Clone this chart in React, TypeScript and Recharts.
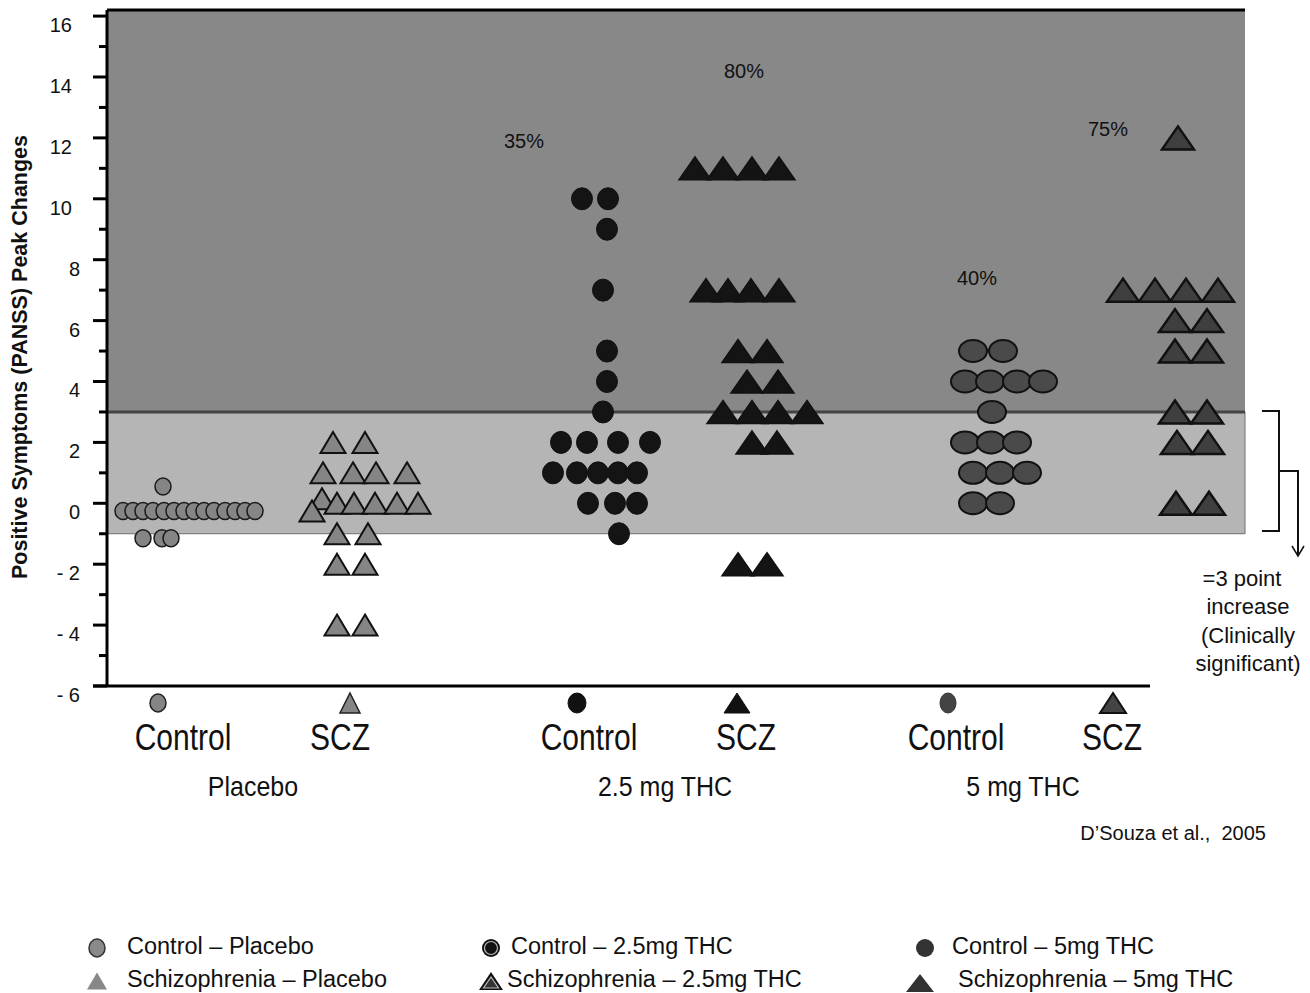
import React from "react";
import {
  ScatterChart,
  Scatter,
  XAxis,
  YAxis,
  ReferenceArea,
  ReferenceLine,
  ReferenceDot,
} from "recharts";

// each point: [lane, PANSS change]; lane = horizontal slot in the swarm
const placeboControl: [number, number][] = [
  [5.6, 0.55],
  [1.6, -0.25], [2.6, -0.25], [3.6, -0.25], [4.6, -0.25], [5.7, -0.25], [6.7, -0.25], [7.7, -0.25],
  [8.7, -0.25], [9.7, -0.25], [10.7, -0.25], [11.8, -0.25], [12.8, -0.25], [13.8, -0.25], [14.8, -0.25],
  [3.6, -1.15], [5.5, -1.15], [6.4, -1.15],
];
const placeboScz: [number, number][] = [
  [22.6, 2], [25.8, 2],
  [21.6, 1], [24.6, 1], [26.9, 1], [30.0, 1],
  [21.5, 0.15], [20.5, -0.25],
  [23.0, 0], [24.7, 0], [26.8, 0], [29.0, 0], [31.1, 0],
  [23.0, -1], [26.1, -1],
  [23.0, -2], [25.8, -2],
  [23.0, -4], [25.8, -4],
];
const thc25Control: [number, number][] = [
  [47.5, 10], [50.1, 10],
  [50.0, 9], [49.6, 7], [50.0, 5], [50.0, 4], [49.6, 3],
  [45.4, 2], [48.0, 2], [51.1, 2], [54.3, 2],
  [44.6, 1], [47.0, 1], [49.1, 1], [51.1, 1], [53.0, 1],
  [48.1, 0], [50.8, 0], [53.0, 0],
  [51.2, -1],
];
const thc25Scz: [number, number][] = [
  [58.8, 11], [61.6, 11], [64.5, 11], [67.2, 11],
  [59.9, 7], [62.1, 7], [64.4, 7], [67.2, 7],
  [63.1, 5], [66.0, 5],
  [64.0, 4], [67.1, 4],
  [61.6, 3], [64.5, 3], [67.1, 3], [70.0, 3],
  [64.5, 2], [67.0, 2],
  [63.1, -2], [66.0, -2],
];
const thc5Control: [number, number][] = [
  [86.6, 5], [89.6, 5],
  [85.8, 4], [88.3, 4], [91.0, 4], [93.6, 4],
  [88.5, 3],
  [85.8, 2], [88.4, 2], [91.0, 2],
  [86.6, 1], [89.3, 1], [92.0, 1],
  [86.6, 0], [89.3, 0],
];
const thc5Scz: [number, number][] = [
  [107.1, 12],
  [101.6, 7], [104.8, 7], [107.9, 7], [111.1, 7],
  [106.8, 6], [110.0, 6],
  [106.8, 5], [110.0, 5],
  [106.8, 3], [110.0, 3],
  [107.0, 2], [110.1, 2],
  [106.9, 0], [110.2, 0],
];

const categoryTicks = [7.6, 23.3, 48.2, 63.9, 84.9, 100.5];
const categoryNames = ["Control", "SCZ", "Control", "SCZ", "Control", "SCZ"];
const groupTicks = [14.6, 55.8, 91.6];
const groupNames = ["Placebo", "2.5 mg THC", "5 mg THC"];
const yTicks = [-6, -5, -4, -3, -2, -1, 0, 1, 2, 3, 4, 5, 6, 7, 8, 9, 10, 11, 12, 13, 14, 15, 16];
const threshold = 3;
const normalLow = -1;
const percentLabels = [
  { text: "35%", lane: 41.7, value: 11.9 },
  { text: "80%", lane: 63.7, value: 14.2 },
  { text: "40%", lane: 87.0, value: 7.4 },
  { text: "75%", lane: 100.1, value: 12.3 },
];
const legendItems = [
  "Control – Placebo",
  "Schizophrenia – Placebo",
  "Control – 2.5mg THC",
  "Schizophrenia – 2.5mg THC",
  "Control – 5mg THC",
  "Schizophrenia – 5mg THC",
];

const FONT = "'Liberation Sans', Arial, Helvetica, sans-serif";
const toPts = (arr: [number, number][]) => arr.map(([x, y]) => ({ x, y }));

const Circle = ({ cx, cy, rx, ry, fill, stroke, sw }: any) => (
  <ellipse cx={cx} cy={cy} rx={rx} ry={ry} fill={fill} stroke={stroke} strokeWidth={sw} />
);
const Tri = ({ cx, cy, w, h, fill, stroke, sw }: any) => (
  <polygon
    points={`${cx},${cy - h / 2} ${cx + w / 2},${cy + h / 2} ${cx - w / 2},${cy + h / 2}`}
    fill={fill}
    stroke={stroke}
    strokeWidth={sw}
    strokeLinejoin="miter"
  />
);

// icons under the x axis, one per category
const iconShift = [-25, 10, -12, -9, -8, 1];
const AxisIcon = ({ i, x, y }: { i: number; x: number; y: number }) => {
  const cx = x + iconShift[i];
  switch (i) {
    case 0:
      return <Circle cx={cx} cy={y} rx={8} ry={9} fill="#858585" stroke="#222" sw={1.5} />;
    case 1:
      return <Tri cx={cx} cy={y} w={20} h={20} fill="#858585" stroke="#222" sw={1.5} />;
    case 2:
      return <Circle cx={cx} cy={y} rx={9} ry={10} fill="#111" stroke="#111" sw={1} />;
    case 3:
      return <Tri cx={cx} cy={y} w={26} h={20} fill="#111" stroke="#111" sw={1} />;
    case 4:
      return <Circle cx={cx} cy={y} rx={8} ry={10} fill="#444" stroke="#333" sw={1} />;
    default:
      return <Tri cx={cx} cy={y} w={26} h={20} fill="#444" stroke="#111" sw={2} />;
  }
};

const XTick = (props: any) => {
  const { x, y, payload } = props;
  const v = payload.value;
  const ci = categoryTicks.findIndex((t) => Math.abs(t - v) < 0.01);
  if (ci >= 0) {
    return (
      <g>
        <AxisIcon i={ci} x={x} y={y + 17} />
        <text
          transform={`translate(${x},${y + 64}) scale(1,1.2)`}
          textAnchor="middle"
          fontFamily={FONT}
          fontSize={30}
          fill="#111"
        >
          {categoryNames[ci]}
        </text>
      </g>
    );
  }
  const gi = groupTicks.findIndex((t) => Math.abs(t - v) < 0.01);
  if (gi < 0) return null;
  return (
    <text
      transform={`translate(${x},${y + 110}) scale(1,1.1)`}
      textAnchor="middle"
      fontFamily={FONT}
      fontSize={25}
      fill="#111"
    >
      {groupNames[gi]}
    </text>
  );
};

const YTick = (props: any) => {
  const { x, y, payload } = props;
  const v = payload.value as number;
  const major = v % 2 === 0;
  const label = v < 0 ? `- ${-v}` : `${v}`;
  return (
    <g>
      <line x1={x - (major ? 14 : 8)} x2={x} y1={y} y2={y} stroke="#000" strokeWidth={3} />
      {major && (
        <text
          x={Math.abs(v) >= 10 ? x - 35 : x - 27}
          y={y + 9}
          textAnchor="end"
          dominantBaseline="central"
          fontFamily={FONT}
          fontSize={20}
          fill="#111"
        >
          {label}
        </text>
      )}
    </g>
  );
};

const LegendIcon = ({ i, cx, cy }: { i: number; cx: number; cy: number }) => {
  switch (i) {
    case 0:
      return <Circle cx={cx} cy={cy} rx={8} ry={9} fill="#8a8a8a" stroke="#333" sw={1.5} />;
    case 1:
      return <Tri cx={cx} cy={cy} w={20} h={17} fill="#888" stroke="none" sw={0} />;
    case 2:
      return (
        <g>
          <circle cx={cx} cy={cy} r={9} fill="#111" />
          <circle cx={cx} cy={cy} r={6.5} fill="none" stroke="#bbb" strokeWidth={1.2} />
        </g>
      );
    case 3:
      return (
        <g>
          <Tri cx={cx} cy={cy} w={24} h={18} fill="#111" stroke="none" sw={0} />
          <Tri cx={cx} cy={cy + 1.5} w={15} h={11} fill="#333" stroke="#bbb" sw={1.2} />
        </g>
      );
    case 4:
      return <circle cx={cx} cy={cy} r={9} fill="#333" />;
    default:
      return <Tri cx={cx} cy={cy} w={28} h={18} fill="#333" stroke="none" sw={0} />;
  }
};

const legendPos = [
  { ix: 97, iy: 948, tx: 127, ty: 946 },
  { ix: 97, iy: 981, tx: 127, ty: 979 },
  { ix: 491, iy: 948, tx: 511, ty: 946 },
  { ix: 491, iy: 981, tx: 507, ty: 979 },
  { ix: 925, iy: 948, tx: 952, ty: 946 },
  { ix: 920, iy: 983, tx: 958, ty: 979 },
];

const Overlay = () => (
  <svg
    width={1310}
    height={993}
    style={{ position: "absolute", left: 0, top: 0, pointerEvents: "none" }}
  >
    <text
      transform="translate(27,357) rotate(-90)"
      textAnchor="middle"
      fontFamily={FONT}
      fontWeight="bold"
      fontSize={21.5}
      fill="#111"
    >
      Positive Symptoms (PANSS) Peak Changes
    </text>
    {/* bracket and arrow */}
    <path
      d="M1262,411 L1279,411 L1279,531 L1262,531 M1279,471 L1298,471 L1298,555"
      fill="none"
      stroke="#111"
      strokeWidth={2}
    />
    <path d="M1292,546 L1298,556 L1304,546" fill="none" stroke="#111" strokeWidth={1.5} />
    {["=3 point", "increase", "(Clinically", "significant)"].map((t, i) => (
      <text
        key={t}
        x={i === 0 ? 1242 : 1248}
        y={578 + i * 28.5}
        textAnchor="middle"
        dominantBaseline="central"
        fontFamily={FONT}
        fontSize={22}
        fill="#111"
      >
        {t}
      </text>
    ))}
    <text
      x={1266}
      y={833}
      textAnchor="end"
      dominantBaseline="central"
      fontFamily={FONT}
      fontSize={20}
      fill="#111"
      style={{ whiteSpace: "pre" }}
    >
      {"D’Souza et al.,  2005"}
    </text>
    {legendItems.map((t, i) => (
      <g key={t}>
        <LegendIcon i={i} cx={legendPos[i].ix} cy={legendPos[i].iy} />
        <text
          x={legendPos[i].tx}
          y={legendPos[i].ty}
          dominantBaseline="central"
          fontFamily={FONT}
          fontSize={23.5}
          fill="#111"
        >
          {t}
        </text>
      </g>
    ))}
  </svg>
);

export default function App() {
  return (
    <div style={{ position: "absolute", left: 0, top: 0, width: 1310, height: 993, background: "#fff" }}>
      <ScatterChart
        width={1310}
        height={993}
        margin={{ top: 10, right: 65, left: 47, bottom: 177 }}
      >
        <ReferenceArea y1={threshold} y2={16.2} fill="#888888" fillOpacity={1} stroke="none" />
        <ReferenceArea y1={normalLow} y2={threshold} fill="#b5b5b5" fillOpacity={1} stroke="#6f6f6f" strokeWidth={1} />
        <ReferenceLine y={16.2} stroke="#000" strokeWidth={3} />
        <ReferenceLine
          segment={[
            { x: -1.4, y: -6 },
            { x: 104.3, y: -6 },
          ]}
          stroke="#000"
          strokeWidth={3}
          ifOverflow="visible"
        />
        <XAxis
          type="number"
          dataKey="x"
          domain={[0, 113.8]}
          allowDataOverflow
          ticks={[...categoryTicks, ...groupTicks].sort((a, b) => a - b)}
          interval={0}
          axisLine={false}
          tickLine={false}
          tickSize={0}
          tickMargin={0}
          height={130}
          tick={<XTick />}
        />
        <YAxis
          type="number"
          dataKey="y"
          domain={[-6, 16.2]}
          allowDataOverflow
          ticks={yTicks}
          interval={0}
          width={60}
          axisLine={{ stroke: "#000", strokeWidth: 3 }}
          tickLine={false}
          tickSize={0}
          tickMargin={0}
          tick={<YTick />}
        />
        <ReferenceLine y={threshold} stroke="#444" strokeWidth={3} />
        <Scatter
          data={toPts(placeboControl)}
          isAnimationActive={false}
          shape={(p: any) => <Circle cx={p.cx} cy={p.cy} rx={8} ry={8.5} fill="#858585" stroke="#1a1a1a" sw={1.5} />}
        />
        <Scatter
          data={toPts(placeboScz)}
          isAnimationActive={false}
          shape={(p: any) => <Tri cx={p.cx} cy={p.cy} w={25} h={21} fill="#858585" stroke="#111" sw={2} />}
        />
        <Scatter
          data={toPts(thc25Control)}
          isAnimationActive={false}
          shape={(p: any) => <Circle cx={p.cx} cy={p.cy} rx={10.5} ry={11} fill="#141414" stroke="#111" sw={1} />}
        />
        <Scatter
          data={toPts(thc25Scz)}
          isAnimationActive={false}
          shape={(p: any) => <Tri cx={p.cx} cy={p.cy} w={32} h={23} fill="#141414" stroke="#111" sw={1.5} />}
        />
        <Scatter
          data={toPts(thc5Control)}
          isAnimationActive={false}
          shape={(p: any) => <Circle cx={p.cx} cy={p.cy} rx={14} ry={11} fill="#4a4a4a" stroke="#111" sw={2} />}
        />
        <Scatter
          data={toPts(thc5Scz)}
          isAnimationActive={false}
          shape={(p: any) => <Tri cx={p.cx} cy={p.cy} w={32} h={23} fill="#3f3f3f" stroke="#111" sw={2.5} />}
        />
        {percentLabels.map((l) => (
          <ReferenceDot
            key={l.text}
            x={l.lane}
            y={l.value}
            r={1}
            fill="none"
            stroke="none"
            ifOverflow="visible"
            label={{ value: l.text, position: "center", fontSize: 20, fill: "#111", fontFamily: FONT }}
          />
        ))}
      </ScatterChart>
      <Overlay />
    </div>
  );
}
